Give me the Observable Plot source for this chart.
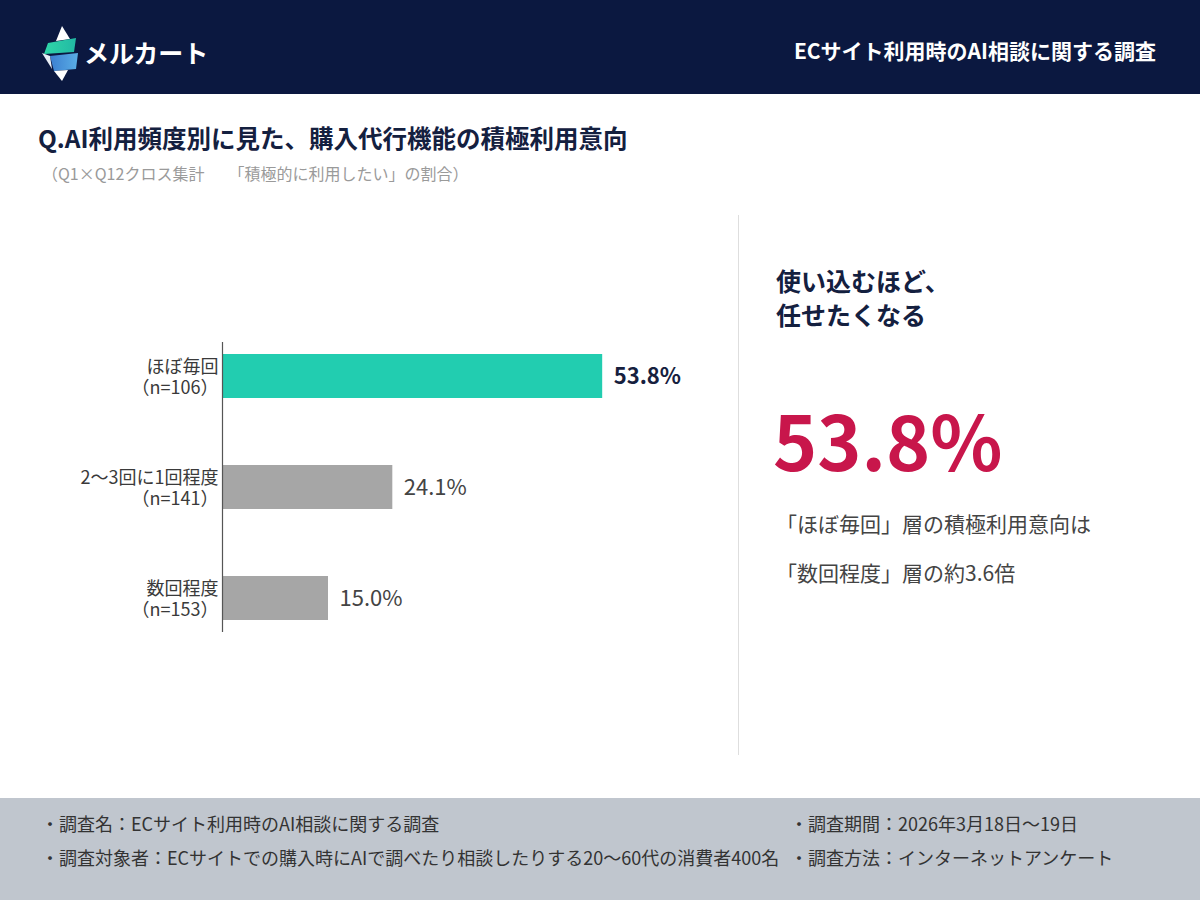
<!DOCTYPE html>
<html lang="ja">
<head>
<meta charset="utf-8">
<script src="https://cdn.jsdelivr.net/npm/d3@7"></script>
<script src="https://cdn.jsdelivr.net/npm/@observablehq/plot@0.6"></script>
<style>
  html, body { margin:0; padding:0; }
  body { width:1200px; height:900px; position:relative; overflow:hidden; background:#fff;
    font-family:"Noto Sans CJK JP","Noto Sans",sans-serif; color:#1a2240; }
  .abs { position:absolute; }
  #header { left:0; top:0; width:1200px; height:94px; background:#0b1840; }
  #brand { left:84px; top:32px; font-size:25px; font-weight:700; color:#fff; line-height:40px; }
  #htitle { right:44px; top:35px; font-size:21px; font-weight:700; color:#fff; line-height:30px; }
  #title { left:38px; top:121px; font-size:24.5px; font-weight:700; color:#14203f; line-height:34px; }
  #subtitle { left:42px; top:161px; font-size:16px; color:#9a9a9a; line-height:24px; white-space:pre; }
  #divider { left:738px; top:215px; width:1px; height:540px; background:#dedede; }
  #lead { left:776px; top:263px; font-size:25px; font-weight:700; color:#14203f; line-height:34px; }
  #big { left:773px; top:389px; font-size:75px; font-weight:700; color:#c8164b; line-height:100px; }
  #desc { left:776px; top:499px; font-size:21px; color:#444; line-height:49px; }
  #footer { left:0; top:798px; width:1200px; height:102px; background:#c0c6ce; }
  .foot { font-size:18px; color:#333; line-height:24px; white-space:nowrap; }
  #chart { left:0; top:200px; }
  #chart svg { overflow:visible; }
</style>
</head>
<body>
<div id="header" class="abs"></div>
<svg class="abs" style="left:40px;top:25px" width="42" height="58" viewBox="0 0 42 58">
  <defs>
    <linearGradient id="gt" x1="0" x2="1"><stop offset="0" stop-color="#2fd6a8"/><stop offset="1" stop-color="#22b9a4"/></linearGradient>
    <linearGradient id="gb" x1="0" x2="1"><stop offset="0" stop-color="#3c7fd0"/><stop offset="1" stop-color="#5aaee6"/></linearGradient>
  </defs>
  <polygon points="22,1 30,14 16,16" fill="#ffffff"/>
  <polygon points="8,18 36,13 34,27 4,29" fill="url(#gt)"/>
  <polygon points="10,31 38,28 36,44 14,46" fill="url(#gb)"/>
  <polygon points="2,28 10,31 12,44" fill="#e8eef6"/>
  <polygon points="14,46 28,45 22,56" fill="#ffffff"/>
</svg>
<div id="brand" class="abs">メルカート</div>
<div id="htitle" class="abs">ECサイト利用時のAI相談に関する調査</div>

<div id="title" class="abs">Q.AI利用頻度別に見た、購入代行機能の積極利用意向</div>
<div id="subtitle" class="abs">（Q1×Q12クロス集計　　「積極的に利用したい」の割合）</div>

<div id="chart" class="abs"></div>

<div id="divider" class="abs"></div>
<div id="lead" class="abs">使い込むほど、<br>任せたくなる</div>
<div id="big" class="abs">53.8%</div>
<div id="desc" class="abs">「ほぼ毎回」層の積極利用意向は<br>「数回程度」層の約3.6倍</div>

<div id="footer" class="abs"></div>
<div class="abs foot" style="left:41px;top:811px">・調査名：ECサイト利用時のAI相談に関する調査</div>
<div class="abs foot" style="left:41px;top:845px">・調査対象者：ECサイトでの購入時にAIで調べたり相談したりする20〜60代の消費者400名</div>
<div class="abs foot" style="left:790px;top:811px">・調査期間：2026年3月18日〜19日</div>
<div class="abs foot" style="left:790px;top:845px">・調査方法：インターネットアンケート</div>

<script>
const categories = ["ほぼ毎回", "2〜3回に1回程度", "数回程度"];
const sampleSizes = [106, 141, 153];
const values = [53.8, 24.1, 15.0];
const highlightIndex = 0;

const data = categories.map((c, i) => ({
  category: c,
  n: sampleSizes[i],
  value: values[i],
  highlight: i === highlightIndex
}));
const nByCategory = new Map(data.map(d => [d.category, d.n]));

const chart = Plot.plot({
  width: 738,
  height: 480,
  marginLeft: 222,
  marginRight: 92,
  marginTop: 142,
  marginBottom: 48,
  style: { fontFamily: '"Noto Sans CJK JP", "Noto Sans", sans-serif', background: "transparent", overflow: "visible" },
  x: { domain: [0, 60], axis: null },
  y: { domain: categories, paddingInner: 0.6, paddingOuter: 0.106, axis: null },
  color: { domain: [true, false], range: ["#22cdb0", "#a6a6a6"] },
  marks: [
    Plot.barX(data, { x: "value", y: "category", fill: "highlight" }),
    Plot.ruleX([0], { stroke: "#555", strokeWidth: 1.2 }),
    Plot.axisY({
      tickSize: 0,
      tickPadding: 4,
      fontSize: 18,
      lineHeight: 1.2,
      fill: "#3a3a3a",
      label: null,
      tickFormat: c => `${c}\n（n=${nByCategory.get(c)}）`
    }),
    Plot.text(data.filter(d => d.highlight), {
      x: "value", y: "category", text: d => d.value.toFixed(1) + "%",
      dx: 11, textAnchor: "start", fontSize: 22, fontWeight: 700, fill: "#16203e"
    }),
    Plot.text(data.filter(d => !d.highlight), {
      x: "value", y: "category", text: d => d.value.toFixed(1) + "%",
      dx: 11, textAnchor: "start", fontSize: 22, fill: "#444"
    })
  ]
});
document.getElementById("chart").appendChild(chart);
</script>
</body>
</html>
